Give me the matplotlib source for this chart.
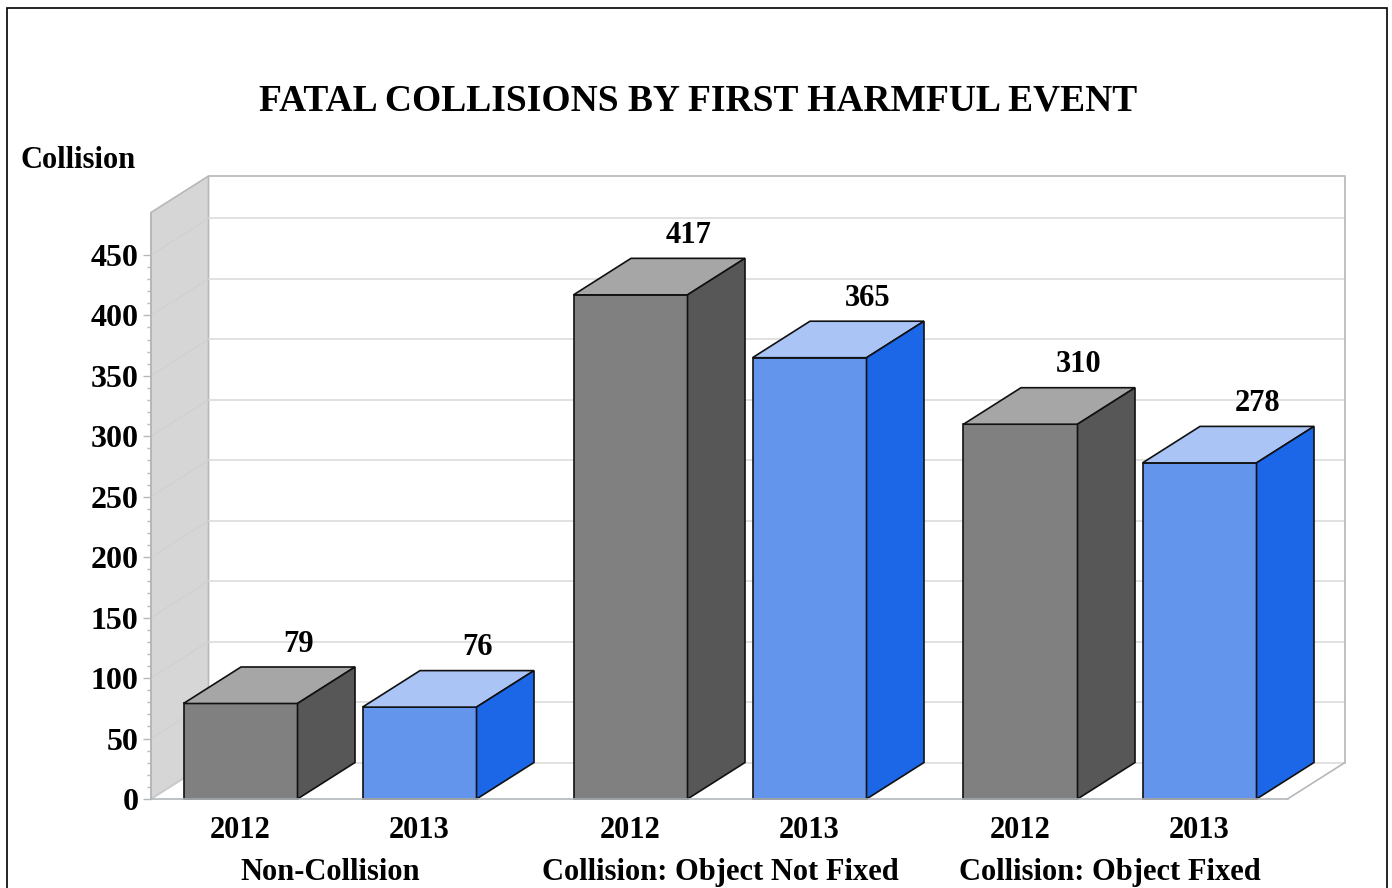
import matplotlib
matplotlib.use("Agg")
import matplotlib.pyplot as plt
from matplotlib.patches import Polygon, Rectangle

plt.rcParams['font.family'] = ['Liberation Serif', 'DejaVu Serif']
plt.rcParams['font.weight'] = 'bold'

title = "FATAL COLLISIONS BY FIRST HARMFUL EVENT"
y_label = "Collision"
groups = ["Non-Collision", "Collision: Object Not Fixed", "Collision: Object Fixed"]
years = ["2012", "2013"]
values_2012 = [79, 417, 310]
values_2013 = [76, 365, 278]
y_major = [0, 50, 100, 150, 200, 250, 300, 350, 400, 450]
y_minor = [v for v in range(0, 451, 10) if v % 50 != 0]

W, H = 1392, 888
# plot box in pixels, floor front at y=799, back wall top at y=176
px_left, px_right, px_top, px_bottom = 151, 1345, 176, 799
px_per_group = 390
px_per_value = 1.209
group0_px = 330

fig = plt.figure(figsize=(W / 100, H / 100), dpi=100)
ax = fig.add_axes([px_left / W, 1 - px_bottom / H, (px_right - px_left) / W, (px_bottom - px_top) / H])
ax.set_xlim((px_left - group0_px) / px_per_group, (px_right - group0_px) / px_per_group)
ax.set_ylim(0, (px_bottom - px_top) / px_per_value)

depth_x = 57.5 / px_per_group
depth_y = 36.5 / px_per_value
bar_w = 114 / px_per_group
bar_off = 89.5 / px_per_group
x0, x1 = ax.get_xlim()
y1 = ax.get_ylim()[1]
front_right = x1 - depth_x
wall_top = y1 - depth_y
edge = "#b4b8bb"
grid = "#d9d9d9"

# walls and grid
ax.add_patch(Polygon([(x0, 0), (x0 + depth_x, depth_y), (x0 + depth_x, y1), (x0, wall_top)],
                     facecolor="#d6d6d6", edgecolor=edge, lw=1.2, zorder=1, clip_on=False))
for v in y_major:
    ax.plot([x0, x0 + depth_x], [v, v + depth_y], color="#d0d0d0", lw=0.8, zorder=1.5)
    ax.plot([x0 + depth_x, x1], [v + depth_y, v + depth_y], color=grid, lw=1.1, zorder=1.5)
ax.plot([x0 + depth_x, x1, x1], [y1, y1, depth_y], color=edge, lw=1.2, zorder=1.5, clip_on=False)
ax.plot([front_right, x1], [0, depth_y], color=edge, lw=1.2, zorder=1.5)


def draw_box(xc, val, front, top, side, z):
    xl = xc - bar_w / 2
    xr = xc + bar_w / 2
    lw = 1.2
    ax.add_patch(Rectangle((xl, 0), bar_w, val, facecolor=front, edgecolor="#111111", lw=lw, zorder=z, clip_on=False))
    ax.add_patch(Polygon([(xl, val), (xr, val), (xr + depth_x, val + depth_y), (xl + depth_x, val + depth_y)],
                         facecolor=top, edgecolor="#111111", lw=lw, zorder=z, clip_on=False))
    ax.add_patch(Polygon([(xr, 0), (xr + depth_x, depth_y), (xr + depth_x, val + depth_y), (xr, val)],
                         facecolor=side, edgecolor="#111111", lw=lw, zorder=z, clip_on=False))
    ax.annotate(str(val), (xc + depth_x, val + depth_y), xytext=(0.5, 6), textcoords="offset points",
                ha="center", va="bottom", fontsize=22, fontweight="bold", zorder=20)


centers = []
for i in range(len(groups)):
    draw_box(i - bar_off, values_2012[i], "#808080", "#a6a6a6", "#575757", 3 + i * 2)
    draw_box(i + bar_off, values_2013[i], "#6495ed", "#a9c4f5", "#1c66e8", 4 + i * 2)
    centers += [i - bar_off, i + bar_off]

# axes
for s in ["top", "right"]:
    ax.spines[s].set_visible(False)
ax.patch.set_visible(False)
ax.spines["left"].set_bounds(0, wall_top)
ax.spines["bottom"].set_bounds(x0, front_right)
ax.spines["left"].set_color(edge)
ax.spines["bottom"].set_color(edge)
ax.spines["left"].set_linewidth(1.2)
ax.spines["bottom"].set_linewidth(1.2)
ax.spines["bottom"].set_zorder(15)
ax.set_yticks(y_major)
ax.set_yticks(y_minor, minor=True)
ax.tick_params(axis="y", which="major", length=6, width=1, color=edge, labelsize=23, pad=3)
ax.tick_params(axis="y", which="minor", length=3, width=1, color=edge)
ax.set_xticks(centers)
ax.set_xticklabels(years * len(groups))
ax.tick_params(axis="x", length=0, labelsize=22, pad=12)

for i, g in enumerate(groups):
    ax.annotate(g, (i, 0), xycoords=("data", "data"), xytext=(0, -53), textcoords="offset points",
                ha="center", va="center", fontsize=22, fontweight="bold", annotation_clip=False)

fig.text(698 / W, 1 - 101 / H, title, ha="center", va="center", fontsize=27, fontweight="bold")
fig.text(21 / W, 1 - 160 / H, y_label, ha="left", va="center", fontsize=22, fontweight="bold")

# outer frame runs off the bottom of the image
fig.add_artist(Rectangle((6.5 / W, -0.05), (1387 - 6.5) / W, 1.05 - 8.5 / H, transform=fig.transFigure,
                         facecolor="none", edgecolor="black", lw=1.2))

fig.savefig("out.png", dpi=100)
